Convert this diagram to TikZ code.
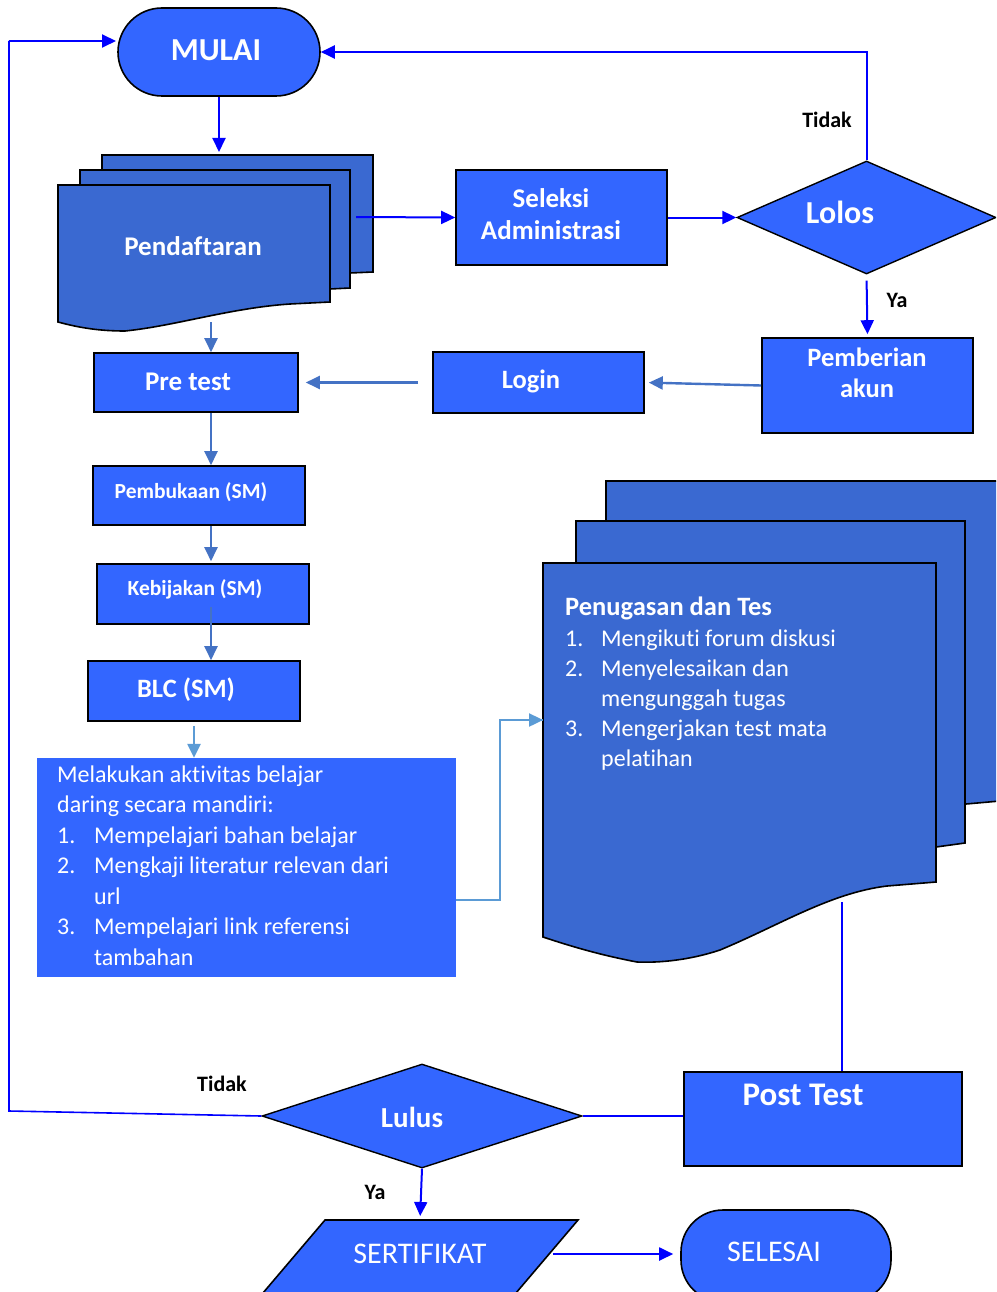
\documentclass[tikz,border=0pt]{standalone}
\usepackage{fontspec}
\setmainfont{Carlito}[Ligatures={NoCommon}]
\usetikzlibrary{arrows.meta,shapes.geometric,calc}
\definecolor{boxblue}{HTML}{3366FF}
\definecolor{docblue}{HTML}{3A69D1}
\definecolor{lineblue}{HTML}{0000FF}
\definecolor{steel}{HTML}{4472C4}
\definecolor{lightb}{HTML}{5B9BD5}
\newcommand{\fsz}[1]{\fontsize{#1}{#1}\selectfont}
\tikzset{
  procbox/.style={draw=black, line width=1.6pt, fill=boxblue, text=white, font=\bfseries, align=center, inner sep=0pt},
  termbox/.style={procbox, rounded corners=44pt},
  decbox/.style={diamond, draw=black, line width=1.4pt, fill=boxblue, inner sep=0pt},
  docsheet/.style={draw=black, line width=1.6pt, fill=docblue},
  wtext/.style={text=white, inner sep=0pt},
  ktext/.style={text=black, inner sep=0pt, font=\bfseries\fsz{22}},
  bluearrow/.style={draw=lineblue, line width=2pt, -{Triangle[length=14pt,width=13pt]}},
  blueline/.style={draw=lineblue, line width=1.6pt},
  steelarrow/.style={draw=steel, line width=2.4pt, -{Triangle[length=14pt,width=13pt]}},
  lightarrow/.style={draw=lightb, line width=2.4pt, -{Triangle[length=14pt,width=13pt]}},
  lightline/.style={draw=lightb, line width=2.4pt},
}
\begin{document}
\begin{tikzpicture}[x=1pt,y=-1pt]
\useasboundingbox (0,0) rectangle (996,1292);
\clip (0,0) rectangle (996,1292);

% ---------- MULAI ----------
\node[termbox, minimum width=202pt, minimum height=88pt] (mulai) at (219,52) {};
\node[wtext, font=\bfseries\fsz{32}] (mulaitxt) at (216,50) {MULAI};

% ---------- Pendaftaran (multi document) ----------
\draw[docsheet] (102,155) -- (373,155) -- (373,272) -- (350,273) -- (102,275) -- cycle;
\draw[docsheet] (80,170) -- (350,170) -- (350,288) -- (330,289) -- (80,290) -- cycle;
\draw[docsheet] (58,185) -- (330,185) -- (330,302) -- (290,304)
   .. controls (230,308) and (175,326) .. (125,331)
   .. controls (100,331) and (80,328) .. (58,322) -- cycle;
\node[wtext, font=\bfseries\fsz{27}] (pend) at (193,246) {Pendaftaran};
\coordinate (pendtop) at (219,155);
\coordinate (pendout) at (356,217);
\coordinate (pendbot) at (211,322);

% ---------- Seleksi Administrasi ----------
\node[procbox, minimum width=211pt, minimum height=95pt] (seleksi) at (561.5,217.5) {};
\node[wtext, font=\bfseries\fsz{27}, align=center] (seleksitxt) at (551,214) {Seleksi\\[5pt]Administrasi};

% ---------- Lolos ----------
\node[decbox, minimum width=259pt, minimum height=113pt] (lolos) at (866.5,217.5) {};
\node[wtext, font=\bfseries\fsz{32}] (lolostxt) at (840,212) {Lolos};
\node[ktext] (tidak1) at (827,120) {Tidak};
\node[ktext] (ya1) at (897,300) {Ya};

% ---------- Pemberian akun ----------
\node[procbox, minimum width=211pt, minimum height=95pt] (pemberian) at (867.5,385.5) {};
\node[wtext, font=\bfseries\fsz{26.5}, align=center] (pembtxt) at (867,373) {Pemberian\\[5pt]akun};

% ---------- Login ----------
\node[procbox, minimum width=211pt, minimum height=61pt] (login) at (538.5,382.5) {};
\node[wtext, font=\bfseries\fsz{26.5}] (logintxt) at (531,381) {Login};

% ---------- Pre test ----------
\node[procbox, minimum width=204pt, minimum height=59pt] (pretest) at (196,382.5) {};
\node[wtext, font=\bfseries\fsz{27}] (pretesttxt) at (188,382) {Pre test};

% ---------- Pembukaan / Kebijakan / BLC ----------
\node[procbox, minimum width=212pt, minimum height=59pt] (pembukaan) at (199,495.5) {};
\node[wtext, font=\bfseries\fsz{21.5}] (pembukaantxt) at (191,492) {Pembukaan (SM)};
\node[procbox, minimum width=212pt, minimum height=60pt] (kebijakan) at (203,594) {};
\node[wtext, font=\bfseries\fsz{21.5}] (kebijakantxt) at (195,589) {Kebijakan (SM)};
\node[procbox, minimum width=212pt, minimum height=60pt] (blc) at (194,691) {};
\node[wtext, font=\bfseries\fsz{26.5}] (blctxt) at (186,690) {BLC (SM)};

% ---------- Belajar mandiri ----------
\node[fill=boxblue, minimum width=419pt, minimum height=219pt, inner sep=0pt] (belajar) at (246.5,867.5) {};
\node[wtext, anchor=north west, align=left, font=\fontsize{24}{30.5}\selectfont] (belajartxt) at (57,765.5)
 {Melakukan aktivitas belajar\\
  daring secara mandiri:\\
  \makebox[37pt][l]{1.}Mempelajari bahan belajar\\
  \makebox[37pt][l]{2.}Mengkaji literatur relevan dari\\
  \hspace*{37pt}url\\
  \makebox[37pt][l]{3.}Mempelajari link referensi\\
  \hspace*{37pt}tambahan};

% ---------- Penugasan dan Tes (multi document) ----------
\draw[docsheet] (606,481) -- (1000,481) -- (1000,801) -- (966,804) -- (606,806) -- cycle;
\draw[docsheet] (576,521) -- (965,521) -- (965,843) -- (936,847) -- (576,850) -- cycle;
\draw[docsheet] (543,563) -- (936,563) -- (936,882) -- (887,886)
   .. controls (830,893) and (780,925) .. (720,950)
   .. controls (690,960) and (660,963) .. (637,962)
   .. controls (600,955) and (570,946) .. (543,937) -- cycle;
\node[wtext, anchor=north west, align=left, font=\fontsize{24}{30.2}\selectfont] (penugasan) at (565,597)
 {{\bfseries\fontsize{26.5}{30.2}\selectfont Penugasan dan Tes}\\
  \makebox[36pt][l]{1.}Mengikuti forum diskusi\\
  \makebox[36pt][l]{2.}Menyelesaikan dan\\
  \hspace*{36pt}mengunggah tugas\\
  \makebox[36pt][l]{3.}Mengerjakan test mata\\
  \hspace*{36pt}pelatihan};
\coordinate (penin) at (543,720);
\coordinate (penout) at (842,902);

% ---------- Post Test ----------
\node[procbox, minimum width=278pt, minimum height=94pt] (posttest) at (823,1119) {};
\node[wtext, font=\bfseries\fsz{33}] (posttesttxt) at (803,1095) {Post Test};

% ---------- Lulus ----------
\node[decbox, minimum width=320pt, minimum height=104pt] (lulus) at (422,1116) {};
\node[wtext, font=\bfseries\fsz{29}] (lulustxt) at (412,1117) {Lulus};
\node[ktext] (tidak2) at (222,1084) {Tidak};
\node[ktext] (ya2) at (375,1192) {Ya};

% ---------- SERTIFIKAT ----------
\draw[procbox] (325,1220) -- (578,1220) -- (510,1300) -- (257,1300) -- cycle;
\node[wtext, font=\fsz{30}, minimum width=266pt] (sert) at (420,1254) {SERTIFIKAT};
\coordinate (serttop) at (420,1220);

% ---------- SELESAI ----------
\node[termbox, rounded corners=42pt, minimum width=210pt, minimum height=92pt] (selesai) at (786,1256) {};
\node[wtext, font=\fsz{30}] (selesaitxt) at (774,1252) {SELESAI};

% ---------- loop coordinates ----------
\coordinate (loopA) at (9,1111);
\coordinate (loopB) at (9,41);
\coordinate (mulaiin) at (116,41);
\coordinate (spine) at (211,0);

% ---------- connectors ----------
\draw[bluearrow, shorten >=3pt] (mulai.south) -- (pendtop);
\draw[bluearrow] (pendout) -- (seleksi.west);
\draw[bluearrow] (seleksi.east) -- (lolos.west);
\draw[bluearrow] (lolos.north) |- (mulai.east);
\draw[bluearrow, shorten <=6pt, shorten >=3pt] (lolos.south) -- (pemberian.north);
\draw[steelarrow, shorten >=4pt] (pemberian.west) -- (login.east);
\draw[steelarrow, shorten <=14pt, shorten >=7pt] (login.west) -- (pretest.east);
\draw[steelarrow] (pendbot) -- (pretest.north -| spine);
\draw[steelarrow] (pretest.south -| spine) -- (pembukaan.north -| spine);
\draw[steelarrow, shorten >=2pt] (pembukaan.south -| spine) -- (kebijakan.north -| spine);
\draw[steelarrow] ($(kebijakan.center -| spine)+(0,13)$) -- (blc.north -| spine);
\draw[lightarrow, shorten <=4pt] (blc.south) -- (belajar.north -| blc.south);
\draw[lightline] ($(belajar.south east)+(0,-77)$) -- ++(44,0) |- (penin);
\draw[lightarrow] ($(penin)+(-1,0)$) -- (penin);
\draw[blueline] (penout) -- (penout |- posttest.north);
\draw[blueline] (posttest.west |- lulus.east) -- (lulus.east);
\draw[blueline] (lulus.west) -- (loopA) -- (loopB);
\draw[bluearrow] (loopB) -- (mulaiin);
\draw[bluearrow, shorten >=4pt] (lulus.south) -- (serttop);
\draw[bluearrow, shorten >=7pt] (sert.east) -- (selesai.west |- sert.east);
\end{tikzpicture}
\end{document}
